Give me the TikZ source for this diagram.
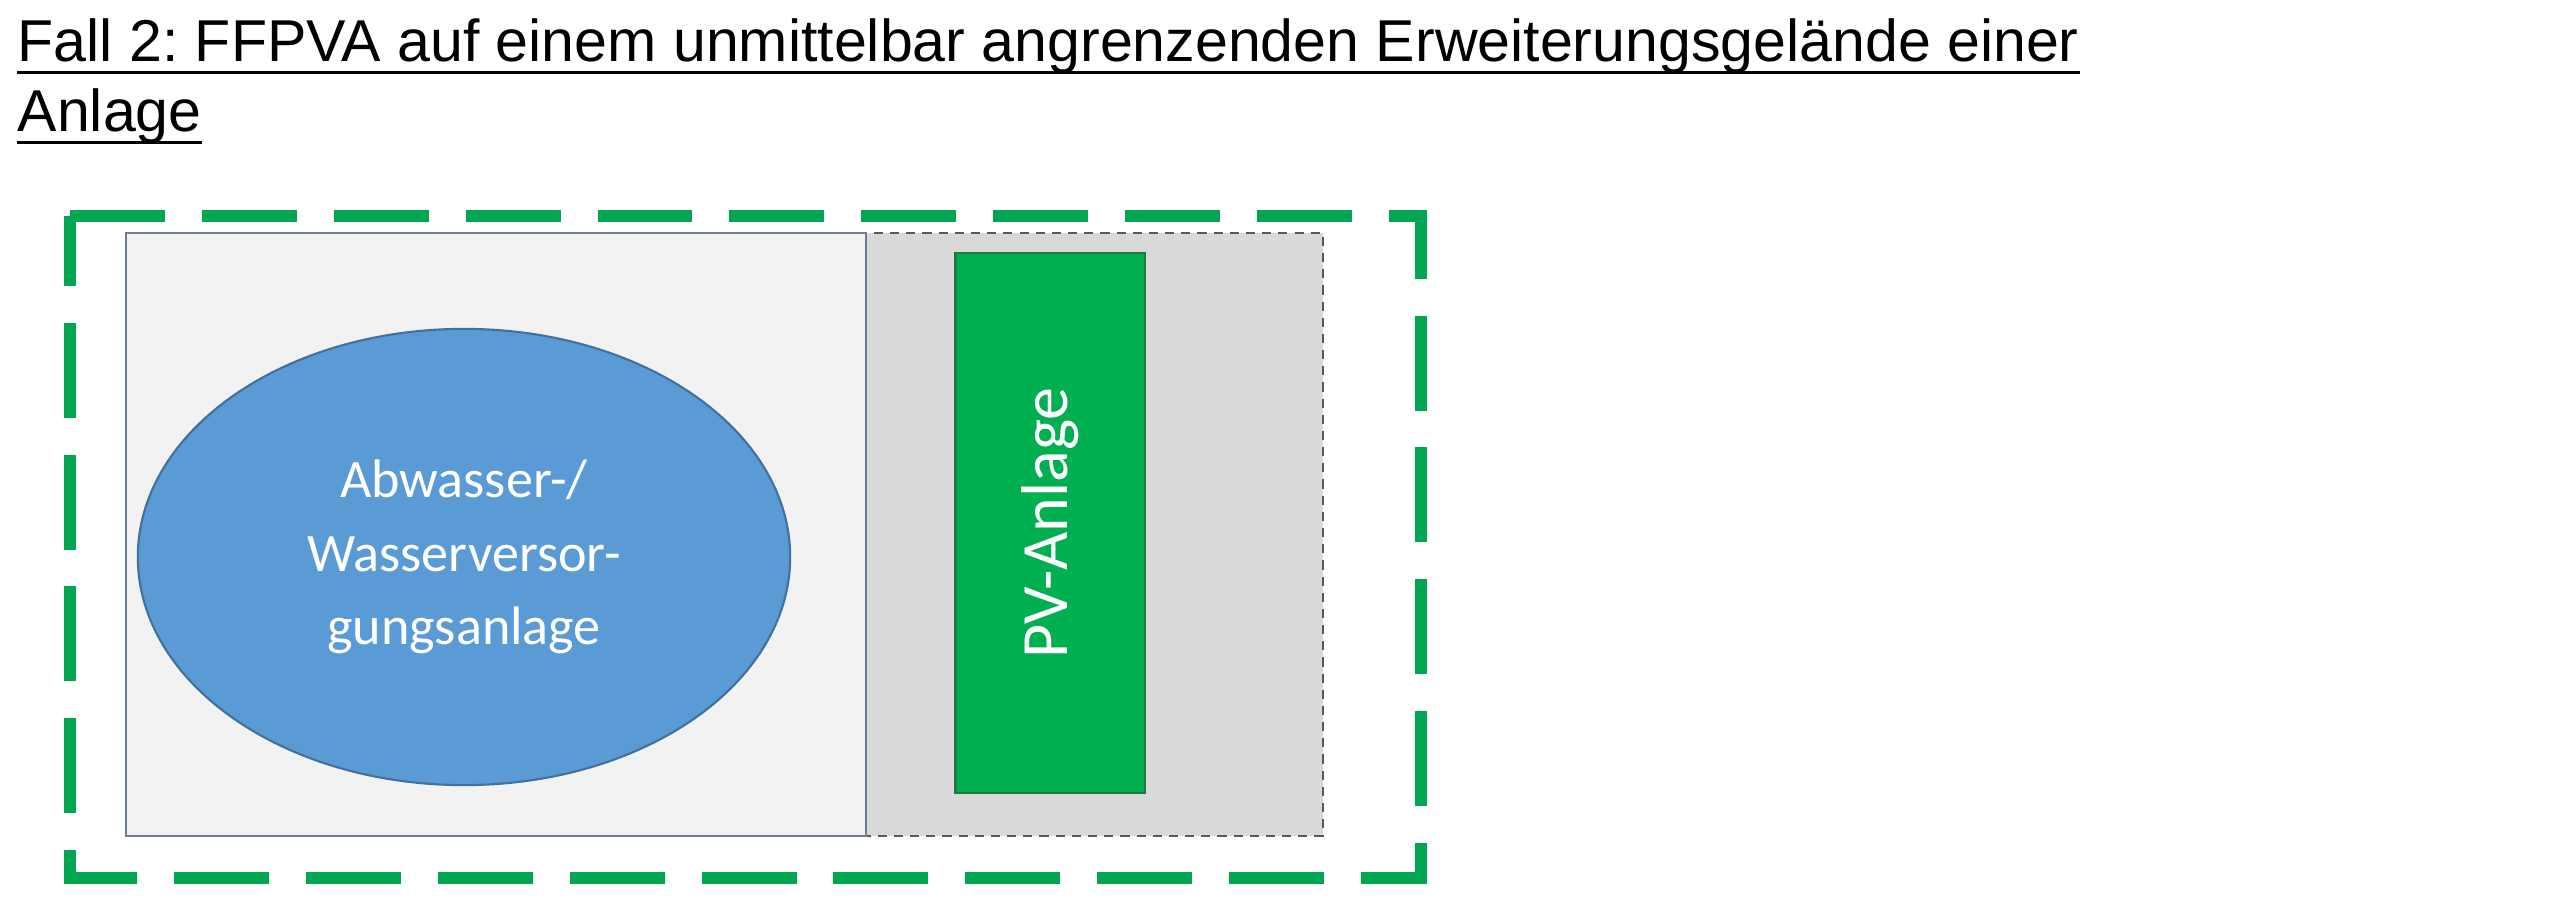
\documentclass[tikz,border=0pt]{standalone}
\usepackage{fontspec}
\setmainfont{Liberation Sans}
\newfontfamily\calibri{Carlito}
\usepackage{tikz}
\usetikzlibrary{shapes.geometric}
\definecolor{sitegreen}{HTML}{00A651}
\definecolor{pvgreen}{HTML}{00B050}
\definecolor{pvedge}{HTML}{1D7A45}
\definecolor{plantblue}{HTML}{5B9BD5}
\definecolor{plantedge}{HTML}{41719C}
\definecolor{areaedge}{HTML}{6E7C98}
\tikzset{
	siteline/.style={sitegreen, line width=3.4pt, line join=miter, dash pattern=on 27pt off 10.5pt},
	plantarea/.style={draw=areaedge, fill=black!5, line width=0.8pt},
	extarea/.style={draw=black!65, fill=black!15, line width=0.8pt, dash pattern=on 2.6pt off 2pt},
	plantnode/.style={ellipse, draw=plantedge, fill=plantblue, line width=0.6pt, minimum width=6.52cm, minimum height=4.56cm, text=white, align=center, font=\calibri\fontsize{15.4}{20.8}\selectfont},
	pvnode/.style={draw=pvedge, fill=pvgreen, line width=0.6pt, rotate=90, minimum width=5.4cm, minimum height=1.89cm, text=white, font=\calibri\fontsize{18.8}{22}\selectfont},
	headline/.style={anchor=base west, inner sep=0pt, font=\fontsize{16.8}{20}\selectfont}
}
\frenchspacing

\begin{document}
\begin{tikzpicture}[x=0.01cm, y=-0.01cm]
	\useasboundingbox (0,0) rectangle (2560,916);
	% Ueberschrift
	\node[headline] (title1) at (17,62) {Fall 2: FFPVA auf einem unmittelbar angrenzenden Erweiterungsgelände einer};
	\node[headline] (title2) at (17,132) {Anlage};
	\foreach \t in {title1, title2}
		\draw[line width=0.85pt] ([yshift=-3.1pt]\t.base west) -- ([yshift=-3.1pt]\t.base east);
	% Flaechen
	\draw[extarea] (866,233) rectangle (1323,836);
	\draw[plantarea] (126,233) rectangle (866,836);
	\node[plantnode] (plant) at (464,557) {Abwasser-/\\Wasserversor-\\gungsanlage};
	\node[pvnode] (pv) at (1050,523) {PV-Anlage};
	% Grenze
	\coordinate (tl) at (70,216);
	\coordinate (tr) at (1421,216);
	\coordinate (br) at (1421,878);
	\coordinate (bl) at (70,878);
	\draw[siteline] (tl) -- (tr) -- (br) -- (bl) -- cycle;
\end{tikzpicture}
\end{document}
